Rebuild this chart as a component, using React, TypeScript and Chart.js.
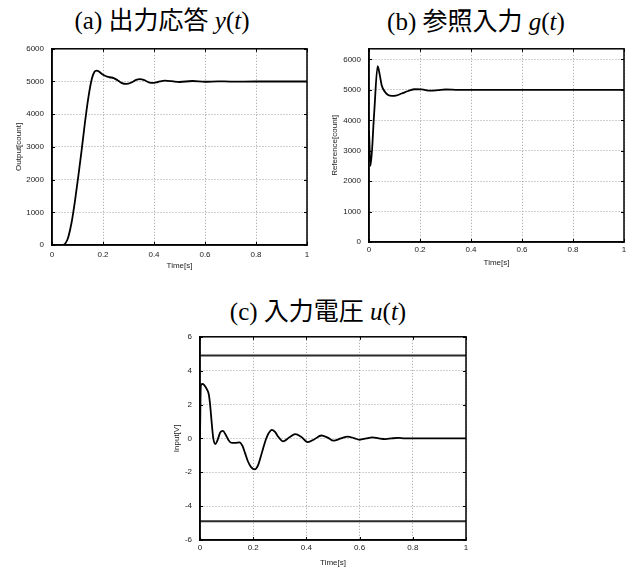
import React, { useEffect, useRef } from "react";
import { Chart, registerables } from "chart.js";
Chart.register(...registerables);

// (a) output response y(t)
const timeA = [0, 0.03, 0.044, 0.055, 0.064, 0.077, 0.09, 0.103, 0.116, 0.129, 0.142, 0.156, 0.166, 0.175, 0.185, 0.197, 0.212, 0.227, 0.242, 0.257, 0.272, 0.292, 0.312, 0.33, 0.345, 0.362, 0.38, 0.395, 0.415, 0.443, 0.47, 0.5, 0.55, 0.6, 0.65, 0.7, 0.8, 0.9, 1.0];
const outputA = [0, 0, 5, 80, 248, 696, 1343, 2090, 2886, 3731, 4478, 5075, 5290, 5335, 5300, 5220, 5160, 5130, 5105, 5040, 4960, 4925, 4970, 5050, 5070, 5040, 4975, 4958, 4985, 5025, 5010, 4985, 5015, 4993, 5005, 4998, 5000, 5000, 5000];

// (b) reference input g(t)
const timeB = [0, 0.006, 0.02, 0.034, 0.042, 0.05, 0.063, 0.075, 0.09, 0.105, 0.128, 0.154, 0.18, 0.207, 0.24, 0.27, 0.3, 0.35, 0.4, 0.5, 0.6, 0.8, 1.0];
const referenceB = [3650, 2500, 4200, 5780, 5500, 5143, 4930, 4830, 4800, 4810, 4880, 4963, 5020, 5015, 4975, 4990, 5012, 4998, 5002, 5000, 5000, 5000, 5000];

// (c) input voltage u(t)
const timeC = [0, 0.003, 0.008, 0.016, 0.026, 0.033, 0.038, 0.043, 0.05, 0.058, 0.066, 0.076, 0.086, 0.097, 0.108, 0.12, 0.133, 0.148, 0.16, 0.17, 0.18, 0.192, 0.206, 0.218, 0.228, 0.238, 0.248, 0.258, 0.27, 0.282, 0.295, 0.312, 0.335, 0.358, 0.38, 0.405, 0.43, 0.456, 0.48, 0.502, 0.53, 0.555, 0.578, 0.6, 0.625, 0.648, 0.672, 0.697, 0.72, 0.745, 0.77, 0.8, 0.85, 0.9, 1.0];
const inputC = [0, 3.1, 3.22, 3.15, 2.9, 2.6, 2.0, 1.1, 0.0, -0.33, -0.1, 0.35, 0.44, 0.2, -0.12, -0.27, -0.27, -0.23, -0.45, -0.9, -1.35, -1.7, -1.83, -1.6, -1.1, -0.55, -0.05, 0.3, 0.5, 0.38, 0.08, -0.18, 0.05, 0.25, 0.1, -0.22, -0.05, 0.17, 0.05, -0.13, 0.0, 0.11, 0.02, -0.08, 0.0, 0.06, 0.0, -0.04, 0.0, 0.03, 0.0, 0.0, 0.0, 0.0, 0.0];
const limitTime = [0, 1];
const upperLimit = [4.9, 4.9];
const lowerLimit = [-4.9, -4.9];

// tick labels
const timeTicks = [0, 0.2, 0.4, 0.6, 0.8, 1];
const countTicks = [0, 1000, 2000, 3000, 4000, 5000, 6000];
const voltTicks = [-6, -4, -2, 0, 2, 4, 6];

const TICK_FONT = { family: "'Liberation Sans', Arial, sans-serif", size: 8 };

const framePlugin = {
  id: "frame",
  afterDraw(chart: any) {
    const { ctx, chartArea: a, scales } = chart;
    ctx.save();
    ctx.strokeStyle = "#000";
    ctx.lineWidth = 1;
    ctx.beginPath();
    const len = 3;
    scales.x.ticks.forEach((t: any) => {
      const px = Math.round(scales.x.getPixelForValue(t.value)) + 0.5;
      ctx.moveTo(px, a.bottom);
      ctx.lineTo(px, a.bottom - len);
      ctx.moveTo(px, a.top);
      ctx.lineTo(px, a.top + len);
    });
    scales.y.ticks.forEach((t: any) => {
      const py = Math.round(scales.y.getPixelForValue(t.value)) + 0.5;
      ctx.moveTo(a.left, py);
      ctx.lineTo(a.left + len, py);
      ctx.moveTo(a.right, py);
      ctx.lineTo(a.right - len, py);
    });
    ctx.stroke();
    ctx.lineWidth = 1.5;
    ctx.strokeRect(a.left, a.top, a.right - a.left, a.bottom - a.top);
    ctx.restore();
  },
};

type PanelProps = {
  left: number;
  top: number;
  width: number;
  height: number;
  padTop: number;
  padRight: number;
  yAxisWidth: number;
  xAxisHeight: number;
  yMin: number;
  yMax: number;
  yTicks: number[];
  yTitle: string;
  yTitlePad: number;
  xTitlePad: number;
  xTickPad: number;
  datasets: any[];
};

function Panel(p: PanelProps) {
  const ref = useRef<HTMLCanvasElement>(null);
  useEffect(() => {
    if (!ref.current) return;
    const chart = new Chart(ref.current, {
      type: "line",
      data: { datasets: p.datasets },
      plugins: [framePlugin],
      options: {
        animation: false,
        responsive: false,
        maintainAspectRatio: false,
        devicePixelRatio: 1,
        layout: { padding: { left: 0, top: p.padTop, right: p.padRight, bottom: 0 } },
        plugins: { legend: { display: false }, tooltip: { enabled: false }, title: { display: false } },
        elements: { point: { radius: 0 } },
        scales: {
          x: {
            type: "linear",
            min: 0,
            max: 1,
            afterBuildTicks: (s: any) => {
              s.ticks = timeTicks.map((v) => ({ value: v }));
            },
            ticks: {
              padding: p.xTickPad,
              color: "#222",
              font: TICK_FONT,
              maxRotation: 0,
              autoSkip: false,
              callback: (v: any) => String(Math.round(Number(v) * 10) / 10),
            },
            grid: { color: "#a0a0a0", lineWidth: 1, drawTicks: false },
            border: { display: true, color: "#000", width: 1.5, dash: [1, 2] },
            title: {
              display: true,
              text: "Time[s]",
              color: "#222",
              font: TICK_FONT,
              padding: { top: 0, bottom: p.xTitlePad },
            },
            afterFit: (s: any) => {
              s.height = p.xAxisHeight;
            },
          },
          y: {
            type: "linear",
            min: p.yMin,
            max: p.yMax,
            afterBuildTicks: (s: any) => {
              s.ticks = p.yTicks.map((v) => ({ value: v }));
            },
            ticks: {
              padding: 8,
              color: "#222",
              font: TICK_FONT,
              autoSkip: false,
              callback: (v: any) => String(Math.round(Number(v))),
            },
            grid: { color: "#a0a0a0", lineWidth: 1, drawTicks: false },
            border: { display: true, color: "#000", width: 1.5, dash: [1, 2] },
            title: {
              display: true,
              text: p.yTitle,
              color: "#222",
              font: TICK_FONT,
              padding: { top: p.yTitlePad, bottom: 0 },
            },
            afterFit: (s: any) => {
              s.width = p.yAxisWidth;
            },
          },
        },
      } as any,
    });
    return () => chart.destroy();
  }, []);
  return (
    <canvas
      ref={ref}
      width={p.width}
      height={p.height}
      style={{ position: "absolute", left: p.left, top: p.top, width: p.width, height: p.height }}
    />
  );
}

const line = (xs: number[], ys: number[], extra: any = {}) => ({
  data: xs.map((x, i) => ({ x, y: ys[i] })),
  borderColor: "#000",
  borderWidth: 1.8,
  fill: false,
  pointRadius: 0,
  cubicInterpolationMode: "monotone",
  ...extra,
});

const titleStyle: React.CSSProperties = {
  position: "absolute",
  width: 260,
  textAlign: "center",
  fontFamily: "'Liberation Serif', 'Noto Sans CJK JP', serif",
  fontSize: 25,
  lineHeight: "26px",
  whiteSpace: "nowrap",
  color: "#000",
};

export default function App() {
  return (
    <div style={{ position: "absolute", left: 0, top: 0, width: 633, height: 568, background: "#fff", overflow: "hidden" }}>
      <div style={{ ...titleStyle, left: 162 - 130, top: 8 }}>
        (a) 出力応答 <i>y</i>(<i>t</i>)
      </div>
      <div style={{ ...titleStyle, left: 476 - 130, top: 9 }}>
        (b) 参照入力 <i>g</i>(<i>t</i>)
      </div>
      <div style={{ ...titleStyle, left: 318 - 130, top: 299 }}>
        (c) 入力電圧 <i>u</i>(<i>t</i>)
      </div>
      <Panel
        left={0}
        top={36}
        width={320}
        height={240}
        padTop={8}
        padRight={13}
        yAxisWidth={52}
        xAxisHeight={31}
        yMin={0}
        yMax={6000}
        yTicks={countTicks}
        yTitle="Output[count]"
        yTitlePad={14}
        xTitlePad={5}
        xTickPad={5}
        datasets={[line(timeA, outputA)]}
      />
      <Panel
        left={320}
        top={36}
        width={313}
        height={240}
        padTop={6}
        padRight={9}
        yAxisWidth={49}
        xAxisHeight={34}
        yMin={0}
        yMax={6350}
        yTicks={countTicks}
        yTitle="Reference[count]"
        yTitlePad={10}
        xTitlePad={8}
        xTickPad={3}
        datasets={[line(timeB, referenceB)]}
      />
      <Panel
        left={160}
        top={324}
        width={320}
        height={244}
        padTop={8}
        padRight={14}
        yAxisWidth={40}
        xAxisHeight={28}
        yMin={-6}
        yMax={6}
        yTicks={voltTicks}
        yTitle="Input[V]"
        yTitlePad={12}
        xTitlePad={0}
        xTickPad={3}
        datasets={[
          line(limitTime, upperLimit, { borderColor: "#2a2a2a", borderWidth: 2, cubicInterpolationMode: "default", tension: 0 }),
          line(limitTime, lowerLimit, { borderColor: "#2a2a2a", borderWidth: 2, cubicInterpolationMode: "default", tension: 0 }),
          line(timeC, inputC),
        ]}
      />
    </div>
  );
}
